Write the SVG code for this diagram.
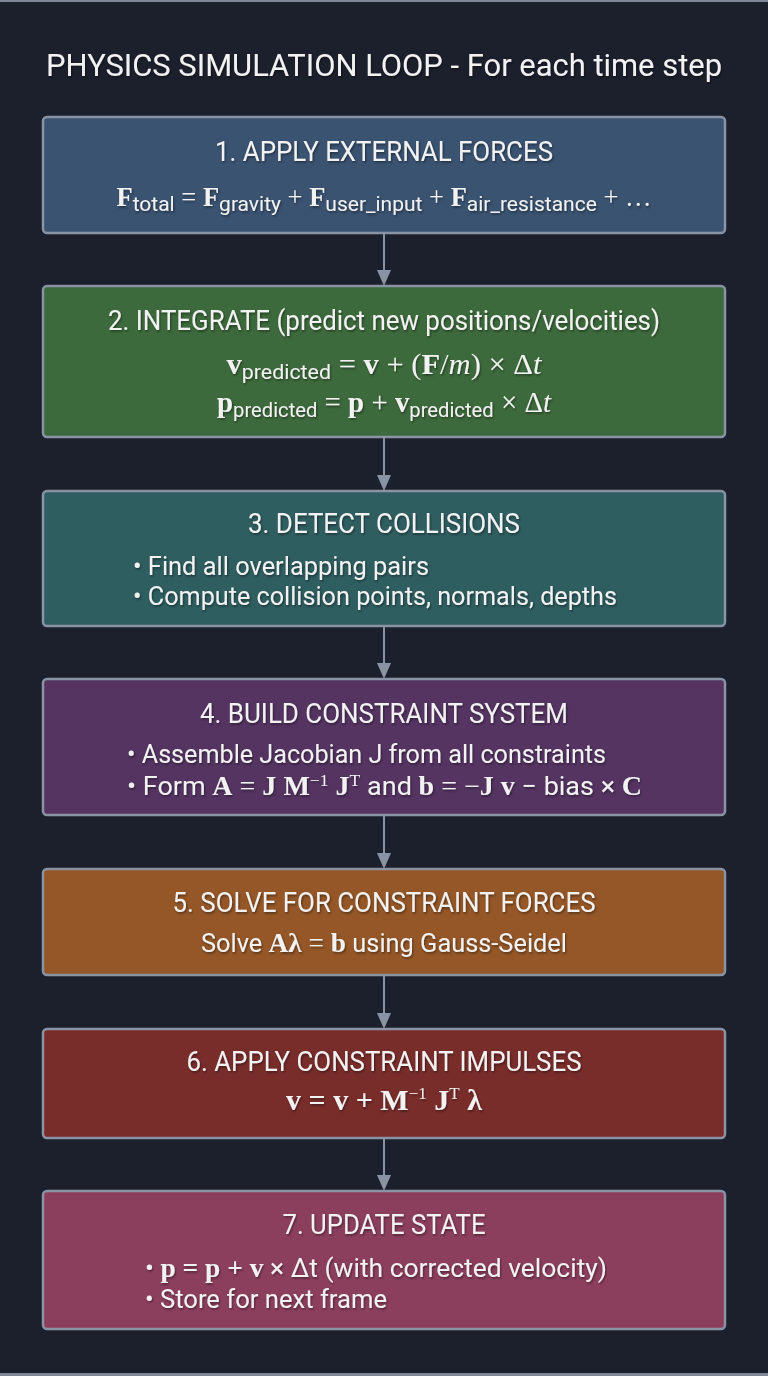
<svg xmlns="http://www.w3.org/2000/svg" width="768" height="1376" viewBox="0 0 768 1376">
<defs>
<style>
.bg{fill:#1c202d}
.box{stroke:#8a93a3;stroke-width:2.5}
.t{font-family:Roboto,"Liberation Sans",sans-serif;fill:#f2f2f2}
.h{font-size:27px}
.ttl{font-size:32px}
.body{font-size:26px}
.m{font-family:"Liberation Serif","DejaVu Serif",serif}
.b{font-family:"Liberation Serif","DejaVu Serif",serif;font-weight:bold}
.i{font-family:"Liberation Serif","DejaVu Serif",serif;font-style:italic}
.s{font-family:Roboto,"Liberation Sans",sans-serif;font-size:21px}
.sup{font-family:"Liberation Serif","DejaVu Serif",serif;font-size:17px}
.conn line{stroke:#8a93a3;stroke-width:2}
.conn polygon{fill:#8a93a3}
</style>
<filter id="sh" x="-5%" y="-20%" width="110%" height="140%">
<feDropShadow dx="1" dy="1.5" stdDeviation="1.2" flood-color="#000" flood-opacity="0.45"/>
</filter>
</defs>
<rect class="bg" x="0" y="0" width="768" height="1376"/>
<rect x="0" y="0" width="768" height="2" fill="#7f8798"/>
<rect x="0" y="1373" width="768" height="3" fill="#7f8798"/>

<text class="t ttl" x="384" y="76" text-anchor="middle" textLength="676" lengthAdjust="spacingAndGlyphs" filter="url(#sh)">PHYSICS SIMULATION LOOP - For each time step</text>

<g class="conn">
<line x1="384" y1="233" x2="384" y2="272"/><polygon points="377,270 391,270 384,286"/>
<line x1="384" y1="437" x2="384" y2="477"/><polygon points="377,475 391,475 384,491"/>
<line x1="384" y1="626" x2="384" y2="665"/><polygon points="377,663 391,663 384,679"/>
<line x1="384" y1="815" x2="384" y2="855"/><polygon points="377,853 391,853 384,869"/>
<line x1="384" y1="975" x2="384" y2="1015"/><polygon points="377,1013 391,1013 384,1029"/>
<line x1="384" y1="1138" x2="384" y2="1177"/><polygon points="377,1175 391,1175 384,1191"/>
</g>

<g id="n1">
<rect class="box" x="43" y="117" width="682" height="116" rx="4" fill="#3a5371"/>
<g class="t" filter="url(#sh)">
<text class="h" x="384" y="161" text-anchor="middle" textLength="338" lengthAdjust="spacingAndGlyphs">1. APPLY EXTERNAL FORCES</text>
<text class="m" font-size="26.5" x="384" y="206" text-anchor="middle"><tspan class="b">F</tspan><tspan class="s" font-size="18.5" dy="5">total</tspan><tspan dy="-5"> = </tspan><tspan class="b">F</tspan><tspan class="s" font-size="18.5" dy="5">gravity</tspan><tspan dy="-5"> + </tspan><tspan class="b">F</tspan><tspan class="s" font-size="18.5" dy="5">user_input</tspan><tspan dy="-5"> + </tspan><tspan class="b">F</tspan><tspan class="s" font-size="18.5" dy="5">air_resistance</tspan><tspan dy="-5"> + …</tspan></text>
</g>
</g>

<g id="n2">
<rect class="box" x="43" y="286" width="682" height="151" rx="4" fill="#3d6a3c"/>
<g class="t" filter="url(#sh)">
<text class="h" x="384" y="330" text-anchor="middle" textLength="552" lengthAdjust="spacingAndGlyphs">2. INTEGRATE (predict new positions/velocities)</text>
<text class="m" font-size="30" x="384" y="374" text-anchor="middle" textLength="315" lengthAdjust="spacingAndGlyphs"><tspan class="b">v</tspan><tspan class="s" dy="5">predicted</tspan><tspan dy="-5"> = </tspan><tspan class="b">v</tspan><tspan> + (</tspan><tspan class="b">F</tspan><tspan>/</tspan><tspan class="i">m</tspan><tspan>) × Δ</tspan><tspan class="i">t</tspan></text>
<text class="m" font-size="30" x="384" y="412" text-anchor="middle" textLength="334" lengthAdjust="spacingAndGlyphs"><tspan class="b">p</tspan><tspan class="s" dy="5">predicted</tspan><tspan dy="-5"> = </tspan><tspan class="b">p</tspan><tspan> + </tspan><tspan class="b">v</tspan><tspan class="s" dy="5">predicted</tspan><tspan dy="-5"> × Δ</tspan><tspan class="i">t</tspan></text>
</g>
</g>

<g id="n3">
<rect class="box" x="43" y="491" width="682" height="135" rx="4" fill="#2f5e61"/>
<g class="t" filter="url(#sh)">
<text class="h" x="384" y="533" text-anchor="middle" textLength="272" lengthAdjust="spacingAndGlyphs">3. DETECT COLLISIONS</text>
<text class="body" x="133" y="575" textLength="296" lengthAdjust="spacingAndGlyphs">• Find all overlapping pairs</text>
<text class="body" x="133" y="605" textLength="484" lengthAdjust="spacingAndGlyphs">• Compute collision points, normals, depths</text>
</g>
</g>

<g id="n4">
<rect class="box" x="43" y="679" width="682" height="136" rx="4" fill="#553462"/>
<g class="t" filter="url(#sh)">
<text class="h" x="384" y="723" text-anchor="middle" textLength="368" lengthAdjust="spacingAndGlyphs">4. BUILD CONSTRAINT SYSTEM</text>
<text class="body" x="127" y="763" textLength="479" lengthAdjust="spacingAndGlyphs">• Assemble Jacobian J from all constraints</text>
<text class="body" x="127" y="795" textLength="515" lengthAdjust="spacingAndGlyphs">• Form <tspan class="b" font-size="27">A</tspan><tspan class="m" font-size="27"> = </tspan><tspan class="b" font-size="27">J M</tspan><tspan class="sup" dy="-9">−1</tspan><tspan class="b" font-size="27" dy="9"> J</tspan><tspan class="sup" dy="-9">T</tspan><tspan dy="9"> and </tspan><tspan class="b" font-size="27">b</tspan><tspan class="m" font-size="27"> = −</tspan><tspan class="b" font-size="27">J v</tspan><tspan> − bias × </tspan><tspan class="b" font-size="27">C</tspan></text>
</g>
</g>

<g id="n5">
<rect class="box" x="43" y="869" width="682" height="106" rx="4" fill="#955727"/>
<g class="t" filter="url(#sh)">
<text class="h" x="384" y="912" text-anchor="middle" textLength="423" lengthAdjust="spacingAndGlyphs">5. SOLVE FOR CONSTRAINT FORCES</text>
<text class="body" x="384" y="952" text-anchor="middle" textLength="366" lengthAdjust="spacingAndGlyphs">Solve <tspan class="b" font-size="28">Aλ</tspan><tspan class="m" font-size="28"> = </tspan><tspan class="b" font-size="28">b</tspan> using Gauss-Seidel</text>
</g>
</g>

<g id="n6">
<rect class="box" x="43" y="1029" width="682" height="109" rx="4" fill="#792d2b"/>
<g class="t" filter="url(#sh)">
<text class="h" x="384" y="1071" text-anchor="middle" textLength="395" lengthAdjust="spacingAndGlyphs">6. APPLY CONSTRAINT IMPULSES</text>
<text class="b" font-size="30" x="384" y="1110" text-anchor="middle" textLength="196" lengthAdjust="spacingAndGlyphs">v = v + M<tspan class="sup" font-weight="normal" dy="-11">−1</tspan><tspan dy="11"> J</tspan><tspan class="sup" font-weight="normal" dy="-11">T</tspan><tspan dy="11"> λ</tspan></text>
</g>
</g>

<g id="n7">
<rect class="box" x="43" y="1191" width="682" height="138" rx="4" fill="#8c3f5d"/>
<g class="t" filter="url(#sh)">
<text class="h" x="384" y="1234" text-anchor="middle" textLength="203" lengthAdjust="spacingAndGlyphs">7. UPDATE STATE</text>
<text class="body" x="145" y="1277" textLength="462" lengthAdjust="spacingAndGlyphs">• <tspan class="b" font-size="27">p = p + v</tspan> × Δt (with corrected velocity)</text>
<text class="body" x="145" y="1308" textLength="242" lengthAdjust="spacingAndGlyphs">• Store for next frame</text>
</g>
</g>
</svg>
